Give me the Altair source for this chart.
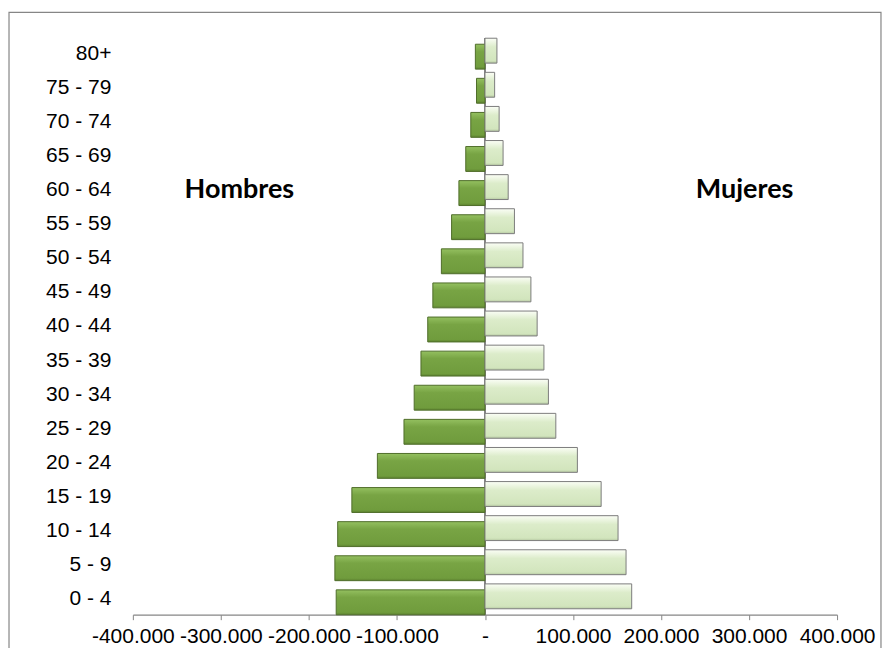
import altair as alt
import pandas as pd

ages = ["0 - 4", "5 - 9", "10 - 14", "15 - 19", "20 - 24", "25 - 29", "30 - 34",
        "35 - 39", "40 - 44", "45 - 49", "50 - 54", "55 - 59", "60 - 64",
        "65 - 69", "70 - 74", "75 - 79", "80+"]
hombres = [169000, 170500, 167300, 151200, 122200, 92000, 80400, 72700, 65000,
           59200, 49500, 37900, 29600, 21800, 16100, 9600, 10900]
mujeres = [166700, 160300, 151200, 132000, 105000, 80500, 72100, 67000, 59300,
           52200, 43200, 33500, 26400, 20600, 16100, 11000, 13600]
series_labels = ["Hombres", "Mujeres"]
label_x = [-279000, 295000]
label_age = "60 - 64"
x_ticks = [-400000, -300000, -200000, -100000, 0, 100000, 200000, 300000, 400000]

df = pd.DataFrame({
    "edad": ages,
    "hombres": [-v for v in hombres],
    "mujeres": mujeres,
    "cero": [0] * len(ages),
})
lab = pd.DataFrame({"texto": series_labels, "x": label_x, "edad": [label_age, label_age]})
frame_df = pd.DataFrame({"x1": [-540700], "x2": [449900]})

order = list(reversed(ages))
yscale = alt.Scale(domain=order, paddingInner=0.27, paddingOuter=0.085)
xscale = alt.Scale(domain=[-400000, 400000], nice=False, zero=False)

label_expr = ("datum.value == 0 ? '-' : (datum.value < 0 ? '-' : '') + "
              "replace(format(abs(datum.value), ','), ',', '.')")

x_axis = alt.Axis(values=x_ticks, labelExpr=label_expr, grid=False, title=None,
                  domainColor="#868686", tickColor="#868686", tickSize=5,
                  labelFont="Liberation Sans", labelFontSize=21, labelColor="#000000",
                  labelPadding=6, domainWidth=1.2, labelFlush=False)
y_axis = alt.Axis(title=None, ticks=False, domain=False, grid=False,
                  labelFont="Liberation Sans", labelFontSize=21, labelColor="#000000",
                  labelPadding=22)

grad_h = alt.LinearGradient(gradient="linear", x1=0, y1=0, x2=0, y2=1, stops=[
    alt.GradientStop(color="#94c060", offset=0),
    alt.GradientStop(color="#78a444", offset=0.3),
    alt.GradientStop(color="#709c3d", offset=0.9),
    alt.GradientStop(color="#5d8230", offset=1),
])
grad_m = alt.LinearGradient(gradient="linear", x1=0, y1=0, x2=0, y2=1, stops=[
    alt.GradientStop(color="#fbfef6", offset=0),
    alt.GradientStop(color="#dcecca", offset=0.35),
    alt.GradientStop(color="#d2e5bd", offset=0.9),
    alt.GradientStop(color="#b6c8a3", offset=1),
])

base = alt.Chart(df)

bars_h = base.mark_bar(color=grad_h, stroke="#4f6d2a", strokeWidth=1, yOffset=3).encode(
    y=alt.Y("edad:N", scale=yscale, axis=y_axis, sort=order),
    x=alt.X("hombres:Q", scale=xscale, axis=x_axis),
    x2="cero:Q",
)
bars_m = base.mark_bar(color=grad_m, stroke="#7c7c7c", strokeWidth=1, yOffset=-3).encode(
    y=alt.Y("edad:N", scale=yscale, sort=order),
    x=alt.X("mujeres:Q", scale=xscale),
    x2="cero:Q",
)
zero_rule = base.mark_rule(color="#868686", strokeWidth=1.2).encode(
    x=alt.X("cero:Q", scale=xscale),
)
labels = alt.Chart(lab).mark_text(font="Lato", fontWeight="bold", fontSize=27,
                                  color="#000000").encode(
    x=alt.X("x:Q", scale=xscale),
    y=alt.Y("edad:N", scale=yscale, sort=order),
    text="texto:N",
)
frame = alt.Chart(frame_df).mark_rect(fill="transparent", stroke="#868686", strokeWidth=1.2).encode(
    x=alt.X("x1:Q", scale=xscale), x2="x2:Q", y=alt.value(-26), y2=alt.value(700),
)

chart = alt.layer(frame, zero_rule, bars_h, bars_m, labels).properties(
    width=705, height=577,
    autosize=alt.AutoSizeParams(type="none"),
    padding={"left": 125, "top": 30, "right": 45, "bottom": 33},
).configure_view(stroke=None)

chart.save("out.html", embed_options={"renderer": "svg", "actions": False})
